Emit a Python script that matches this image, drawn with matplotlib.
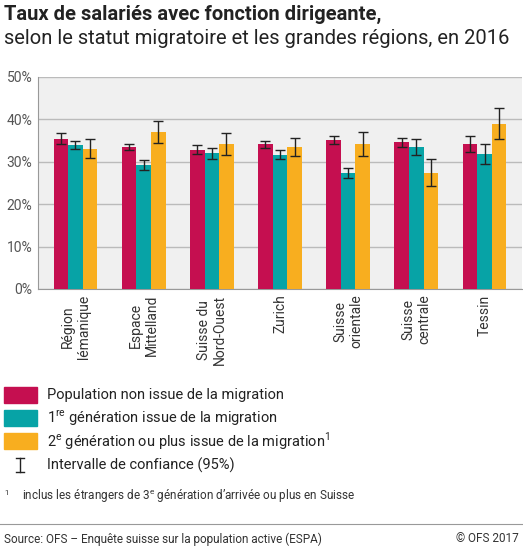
import matplotlib.pyplot as plt
import numpy as np
from matplotlib.patches import Rectangle
from matplotlib.lines import Line2D

plt.rcParams['font.family'] = ['Roboto', 'DejaVu Sans']
plt.rcParams['mathtext.fontset'] = 'custom'
plt.rcParams['mathtext.rm'] = 'Roboto'

regions = ['Région\nlémanique', 'Espace\nMittelland', 'Suisse du\nNord-Ouest', 'Zurich',
           'Suisse\norientale', 'Suisse\ncentrale', 'Tessin']
non_migr = [35.3, 33.5, 32.9, 34.1, 35.1, 34.6, 34.2]
non_lo = [34.2, 32.7, 31.8, 33.2, 34.1, 33.4, 32.2]
non_hi = [36.7, 34.2, 34.0, 35.0, 36.2, 35.7, 36.2]
gen1 = [33.9, 29.3, 32.0, 31.7, 27.4, 33.5, 31.8]
gen1_lo = [33.0, 28.1, 30.7, 30.6, 26.1, 31.7, 29.4]
gen1_hi = [35.0, 30.5, 33.3, 32.8, 28.6, 35.3, 34.1]
gen2 = [33.1, 37.1, 34.2, 33.5, 34.2, 27.4, 39.0]
gen2_lo = [30.8, 34.4, 31.6, 31.3, 31.3, 24.2, 35.3]
gen2_hi = [35.3, 39.7, 36.8, 35.5, 37.0, 30.6, 42.7]

colors = ['#c50f50', '#07a3a6', '#f8ae1f']
W, H = 523, 549
fig = plt.figure(figsize=(W / 100, H / 100), dpi=100)
ax = fig.add_axes([38 / W, 1 - 289 / H, 484 / W, 212 / H])
ax.set_facecolor('#f0f0f0')

x = np.arange(len(regions))
bw = 0.215
for i, (v, lo, hi) in enumerate([(non_migr, non_lo, non_hi), (gen1, gen1_lo, gen1_hi),
                                 (gen2, gen2_lo, gen2_hi)]):
    pos = x + (i - 1) * bw
    v = np.array(v)
    ax.bar(pos, v, bw, color=colors[i], zorder=3)
    ax.errorbar(pos, v, yerr=[v - np.array(lo), np.array(hi) - v], fmt='none',
                ecolor='#222222', elinewidth=1, capsize=3.5, capthick=1, zorder=4)

ax.set_xlim(-0.55, 6.55)
ax.set_ylim(0, 50)
ax.set_yticks(range(0, 51, 10))
ax.set_yticklabels([f'{t}%' for t in range(0, 51, 10)], color='#555555', fontsize=10)
ax.yaxis.grid(True, color='#bbbbbb', linewidth=1, zorder=0)
ax.set_xticks(x)
ax.set_xticklabels(regions, rotation=90, fontsize=10, color='#333333', va='top', ha='center')
ax.tick_params(axis='both', length=0, pad=4)
for s in ['top', 'right']:
    ax.spines[s].set_visible(False)
for s in ['left', 'bottom']:
    ax.spines[s].set_color('#999999')

fig.text(4 / W, 1 - 14 / H, 'Taux de salariés avec fonction dirigeante,', fontsize=14.5,
         fontweight='bold', va='center', color='#222222')
fig.text(4 / W, 1 - 38 / H, 'selon le statut migratoire et les grandes régions, en 2016',
         fontsize=14.5, va='center', color='#222222')

labels = ['Population non issue de la migration', '1$^{\\mathrm{re}}$ génération issue de la migration',
          '2$^{\\mathrm{e}}$ génération ou plus issue de la migration$^{\\mathrm{1}}$']
for i, lab in enumerate(labels):
    yc = 395 + i * 23
    fig.patches.append(Rectangle((4 / W, 1 - (yc + 8) / H), 33 / W, 16 / H,
                                 color=colors[i], transform=fig.transFigure))
    fig.text(47 / W, 1 - yc / H, lab, fontsize=10.5, va='center', color='#222222')
yc = 465
fig.lines.append(Line2D([20 / W, 20 / W], [1 - (yc - 7) / H, 1 - (yc + 7) / H],
                        color='#222222', lw=1, transform=fig.transFigure))
for yy in (yc - 7, yc + 7):
    fig.lines.append(Line2D([16 / W, 24 / W], [1 - yy / H] * 2, color='#222222', lw=1,
                            transform=fig.transFigure))
fig.text(47 / W, 1 - yc / H, 'Intervalle de confiance (95%)', fontsize=10.5, va='center', color='#222222')

fig.text(4 / W, 1 - 495 / H, '$^{\\mathrm{1}}$', fontsize=8, va='center', color='#333333')
fig.text(22 / W, 1 - 495 / H, 'inclus les étrangers de 3$^{\\mathrm{e}}$ génération d\u2019arrivée ou plus en Suisse',
         fontsize=8.5, va='center', color='#333333')
fig.lines.append(Line2D([0, 1], [1 - 524 / H] * 2, color='#999999', lw=0.8, transform=fig.transFigure))
fig.text(4 / W, 1 - 539 / H, 'Source: OFS \u2013 Enquête suisse sur la population active (ESPA)',
         fontsize=8.5, va='center', color='#333333')
fig.text(519 / W, 1 - 539 / H, '© OFS 2017', fontsize=8.5, va='center', ha='right', color='#333333')

fig.savefig('out.png', dpi=100)
